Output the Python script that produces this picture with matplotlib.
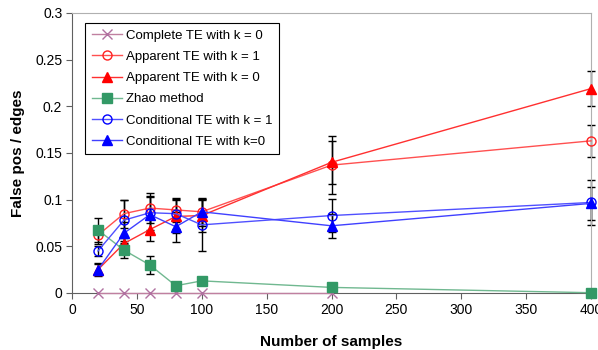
import matplotlib

matplotlib.use("Agg")
import matplotlib.pyplot as plt

plt.rcParams["font.family"] = ["Liberation Sans", "DejaVu Sans"]

samples = [20, 40, 60, 80, 100, 200, 400]

complete_k0 = [0, 0, 0, 0, 0, 0]  # only drawn up to 200 in the original
apparent_k1 = [0.062, 0.085, 0.091, 0.089, 0.087, 0.137, 0.163]
apparent_k1_err = [0.010, 0.015, 0.016, 0.013, 0.015, 0.031, 0.017]
apparent_k0 = [0.025, 0.053, 0.068, 0.082, 0.083, 0.140, 0.219]
apparent_k0_err = [0.006, 0.006, 0.012, 0.018, 0.018, 0.023, 0.019]
zhao = [0.0675, 0.046, 0.030, 0.0078, 0.013, 0.006, 0.0003]
zhao_err = [0.013, 0.008, 0.010, 0.0, 0.0, 0.0, 0.0]
conditional_k1 = [0.045, 0.078, 0.086, 0.085, 0.073, 0.083, 0.097]
conditional_k1_err = [0.005, 0.022, 0.018, 0.016, 0.028, 0.018, 0.024]
conditional_k0 = [0.025, 0.064, 0.084, 0.071, 0.087, 0.072, 0.096]
conditional_k0_err = [0.007, 0.012, 0.019, 0.016, 0.013, 0.013, 0.018]

fig = plt.figure(figsize=(5.98, 3.5), dpi=100)
ax = fig.add_axes([72 / 598, 1 - 293 / 350, (591 - 72) / 598, (293 - 13) / 350])

err_kw = dict(ecolor="black", elinewidth=1.0, capsize=3, capthick=1.0, clip_on=False)

series = [
    (samples[:6], complete_k0, None, "#c080a0", "#b070a0", "x", "none", "Complete TE with k = 0"),
    (samples, apparent_k1, apparent_k1_err, "#ff5050", "#ff2020", "o", "none", "Apparent TE with k = 1"),
    (samples, apparent_k0, apparent_k0_err, "#ff3030", "#ff0000", "^", None, "Apparent TE with k = 0"),
    (samples, zhao, zhao_err, "#70b890", "#339966", "s", None, "Zhao method"),
    (samples, conditional_k1, conditional_k1_err, "#5050ff", "#0000ff", "o", "none", "Conditional TE with k = 1"),
    (samples, conditional_k0, conditional_k0_err, "#4040ff", "#0000ff", "^", None, "Conditional TE with k=0"),
]

for xs, ys, err, lc, mc, marker, mfc, label in series:
    if err is not None:
        ax.errorbar(xs, ys, yerr=err, fmt="none", zorder=2, **err_kw)
    ax.plot(xs, ys, color=lc, linewidth=1.0, marker=marker, markersize=6.5,
            markeredgecolor=mc, markerfacecolor=mc if mfc is None else "none",
            markeredgewidth=1.0, label=label, zorder=3, clip_on=False)

ax.set_xlim(0, 400)
ax.set_ylim(0, 0.3)
ax.set_xticks(range(0, 401, 50))
ax.set_yticks([0, 0.05, 0.1, 0.15, 0.2, 0.25, 0.3])
ax.set_yticklabels(["0", "0.05", "0.1", "0.15", "0.2", "0.25", "0.3"])
ax.tick_params(axis="both", direction="out", length=4, color="#606060", labelsize=10, pad=3)

for side in ("left", "bottom"):
    ax.spines[side].set_color("#606060")
for side in ("top", "right"):
    ax.spines[side].set_color("#b0b0b0")

ax.set_xlabel("Number of samples", fontsize=11, fontweight="bold", labelpad=13)
ax.set_ylabel("False pos / edges", fontsize=11, fontweight="bold", labelpad=7)

leg = ax.legend(loc="upper left", bbox_to_anchor=(13 / 519, 1 - 10 / 280), borderaxespad=0,
                fontsize=9.5, frameon=True, fancybox=False, edgecolor="black", framealpha=1,
                handlelength=2.3, handletextpad=0.3, borderpad=0.5, labelspacing=0.68)
leg.get_frame().set_linewidth(0.8)

fig.savefig("out.png", dpi=100)
